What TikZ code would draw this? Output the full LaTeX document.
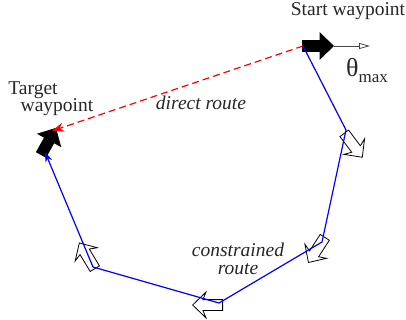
\documentclass[tikz,border=0pt]{standalone}
\usepackage{fontspec}
\setmainfont{Liberation Serif}
\usepackage{xcolor}
\usetikzlibrary{arrows.meta, shapes.arrows}
\definecolor{routeblue}{RGB}{0,0,255}
\definecolor{routered}{RGB}{255,0,0}
\definecolor{limitgray}{RGB}{70,70,70}
\tikzset{
  heading/.style={
    single arrow, anchor=tail, minimum height=30pt, minimum width=25pt,
    single arrow head extend=7.5pt, single arrow tip angle=88,
    single arrow head indent=3pt,
    inner xsep=0pt, inner ysep=5pt, draw=black, line width=0.8pt, fill=white
  },
  headingfix/.style={heading, fill=black, single arrow head indent=0pt},
  label/.style={font=\fontsize{19.5}{21}\selectfont, text=black!85, inner sep=0pt},
  routelabel/.style={label, font=\fontsize{19.5}{18}\selectfont\itshape, align=center},
  arrowblue/.style={-{Stealth[length=10pt, width=7pt]}, line width=1.2pt, color=routeblue},
  arrowred/.style={-{Stealth[length=12pt, width=9pt]}, line width=1.2pt, dashed,
    dash pattern=on 7pt off 4pt, color=routered},
  arrowlimit/.style={-{Triangle[open, length=11pt, width=6pt]}, line width=0.8pt, color=limitgray}
}
\begin{document}
\begin{tikzpicture}[x=1pt, y=-1pt]
  \useasboundingbox (0,0) rectangle (406,320);

  \coordinate (wpstart) at (303,46);
  \coordinate (wpa) at (346,130);
  \coordinate (wpb) at (322,242);
  \coordinate (wpc) at (219,303);
  \coordinate (wpd) at (93,267);
  \coordinate (wptarget) at (45,152);
  \coordinate (wpend) at (52,131);
  \coordinate (limit) at (370,46);

  \node[headingfix, minimum height=31pt, rotate=0] (start) at (302,46) {};
  \node[heading, rotate=-53] (heada) at (344,133) {};
  \node[heading, rotate=-123] (headb) at (325,237) {};
  \node[heading, rotate=180] (headc) at (223,305) {};
  \node[heading, rotate=121] (headd) at (95,269) {};
  \node[headingfix, rotate=61] (target) at (41,155) {};

  \draw[arrowlimit] (start.tip) -- (limit);
  \draw[arrowred] (wpstart) -- (wpend);
  \draw[arrowblue, -] (wpstart) -- (wpa) -- (wpb) -- (wpc) -- (wpd);
  \draw[arrowblue] (wpd) -- (wptarget);

  \node[label] (startlbl) at (348,11) {Start waypoint};
  \node[label] (targetlbl) at (33,90) {Target};
  \node[label] (targetlblb) at (57,107) {waypoint};
  \node[routelabel] (directlbl) at (201,103) {direct route};
  \node[routelabel] (constrainedlbl) at (238,259) {constrained\\route};
  \node[label, anchor=base west, font=\fontsize{26}{26}\selectfont] (thetalbl) at (346,77)
    {θ\raisebox{-6pt}{\fontsize{17}{17}\selectfont max}};
\end{tikzpicture}
\end{document}
